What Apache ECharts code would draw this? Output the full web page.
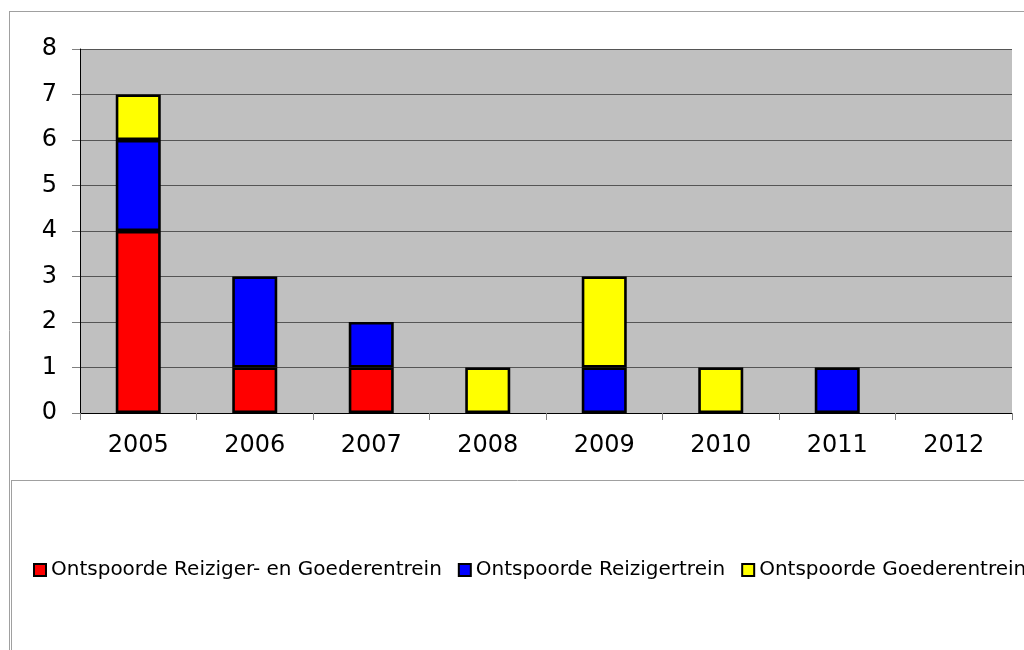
<!DOCTYPE html>
<html>
<head>
<meta charset="utf-8">
<script src="https://cdn.jsdelivr.net/npm/echarts@6/dist/echarts.min.js"></script>
<style>
  html, body { margin: 0; padding: 0; background: #fff; }
  #chart { width: 1024px; height: 650px; }
</style>
</head>
<body>
<div id="chart"></div>
<script>
// jaren op de x-as
const years = ['2005', '2006', '2007', '2008', '2009', '2010', '2011', '2012'];
const yTicks = [0, 1, 2, 3, 4, 5, 6, 7, 8];

// aantallen per jaar (null = geen balk)
const reizigerEnGoederen = [4, 1, 1, null, null, null, null, null];
const reizigers = [2, 2, 1, null, 1, null, 1, null];
const goederen = [1, null, null, 1, 2, 1, null, null];

const seriesNames = [
  'Ontspoorde Reiziger- en Goederentrein',
  'Ontspoorde Reizigertrein',
  'Ontspoorde Goederentrein'
];
const seriesColors = ['#ff0000', '#0000ff', '#ffff00'];
const seriesData = [reizigerEnGoederen, reizigers, goederen];

const FONT = 'DejaVu Sans';

let chart = echarts.init(document.getElementById('chart'));

let series = seriesNames.map(function (name, i) {
  return {
    name: name,
    type: 'bar',
    stack: 'totaal',
    barWidth: 45,
    data: seriesData[i],
    itemStyle: {
      color: seriesColors[i],
      borderColor: '#000',
      borderWidth: 2.6
    },
    emphasis: { disabled: true }
  };
});

chart.setOption({
  animation: false,
  backgroundColor: '#fff',
  textStyle: { fontFamily: FONT },
  graphic: [
    // buitenkader
    { type: 'line', shape: { x1: 10, y1: 11.5, x2: 1024, y2: 11.5 }, style: { stroke: '#a0a0a0', lineWidth: 1 } },
    { type: 'line', shape: { x1: 9.5, y1: 11, x2: 9.5, y2: 650 }, style: { stroke: '#a0a0a0', lineWidth: 1 } },
    // legendakader
    { type: 'line', shape: { x1: 11, y1: 480.5, x2: 1024, y2: 480.5 }, style: { stroke: '#a0a0a0', lineWidth: 1 } },
    { type: 'line', shape: { x1: 11.5, y1: 480, x2: 11.5, y2: 650 }, style: { stroke: '#a0a0a0', lineWidth: 1 } }
  ],
  grid: {
    left: 80,
    right: 12,
    top: 49,
    bottom: 237,
    show: true,
    backgroundColor: '#c0c0c0',
    borderWidth: 0
  },
  legend: {
    left: 28,
    top: 555,
    width: 2000,
    itemWidth: 12,
    itemHeight: 12,
    itemGap: 16,
    icon: 'rect',
    selectedMode: false,
    data: seriesNames,
    textStyle: { fontFamily: FONT, fontSize: 20, color: '#000' }
  },
  xAxis: {
    type: 'category',
    data: years,
    axisLine: { lineStyle: { color: '#000', width: 1 } },
    axisTick: { show: true, length: 7, lineStyle: { color: '#808080' } },
    axisLabel: { fontFamily: FONT, fontSize: 24, color: '#000', margin: 21 }
  },
  yAxis: {
    type: 'value',
    min: yTicks[0],
    max: yTicks[yTicks.length - 1],
    interval: 1,
    axisLine: { show: true, lineStyle: { color: '#000', width: 1 } },
    axisTick: { show: true, length: 8, lineStyle: { color: '#808080' } },
    splitLine: { lineStyle: { color: '#555', width: 1 } },
    axisLabel: { fontFamily: FONT, fontSize: 24, color: '#000', margin: 23 }
  },
  series: series
});
</script>
</body>
</html>
